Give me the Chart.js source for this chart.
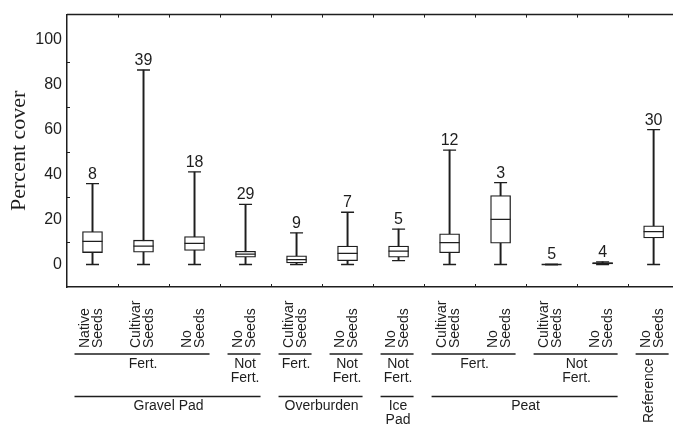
<!DOCTYPE html>
<html>
<head>
<meta charset="utf-8">
<title>Percent cover</title>
<script src="https://cdn.jsdelivr.net/npm/chart.js@4.4.0/dist/chart.umd.min.js"></script>
<style>
    html, body { margin: 0; padding: 0; background: #fff; }
    #wrap { width: 673px; height: 432px; }
</style>
</head>
<body>
<div id="wrap"><canvas id="coverChart"></canvas></div>
<script>
// box plot values (percent cover)
var positions = [1, 2, 3, 4, 5, 6, 7, 8, 9, 10, 11, 12];
var seedLabels = [
    ['Native', 'Seeds'], ['Cultivar', 'Seeds'], ['No', 'Seeds'], ['No', 'Seeds'],
    ['Cultivar', 'Seeds'], ['No', 'Seeds'], ['No', 'Seeds'], ['Cultivar', 'Seeds'],
    ['No', 'Seeds'], ['Cultivar', 'Seeds'], ['No', 'Seeds'], ['No', 'Seeds']
];
var minValues    = [0,    0,    0,    0,   0,   0,    1.7,  0,    0,    0, 0,   0];
var q1Values     = [5.3,  5.5,  6.2,  3.2, 0.7, 1.7,  3.2,  5.2,  9.5,  0, 0.2, 11.8];
var medianValues = [10.3, 8.2,  9.4,  4.6, 2.2, 4.9,  5.9,  9.7,  20,   0, 0.5, 14.6];
var q3Values     = [14.6, 10.8, 12.4, 5.9, 3.9, 8.2,  8.2,  13.6, 30.6, 0, 0.9, 17.2];
var maxValues    = [35.9, 86.4, 41.1, 26.7, 14, 23.2, 15.7, 50.8, 36.4, 0, 1.2, 59.9];
var sampleSizes  = [8, 39, 18, 29, 9, 7, 5, 12, 3, 5, 4, 30];
var yTickValues = [0, 20, 40, 60, 80, 100];
var yMinorTicks = [10, 30, 50, 70, 90];

// grouping rows under the axis: [first position, last position, text lines]
var fertGroups = [
    [1, 3, ['Fert.']], [4, 4, ['Not', 'Fert.']], [5, 5, ['Fert.']], [6, 6, ['Not', 'Fert.']],
    [7, 7, ['Not', 'Fert.']], [8, 9, ['Fert.']], [10, 11, ['Not', 'Fert.']], [12, 12, []]
];
var siteGroups = [
    [1, 4, ['Gravel Pad']], [5, 6, ['Overburden']], [7, 7, ['Ice', 'Pad']], [8, 11, ['Peat']]
];
var referenceLabel = 'Reference';

var ink = '#1e1e1e';
var sansFont = '"Liberation Sans", Arial, sans-serif';

function pointsOf(values){
    return positions.map(function(p, i){ return {x: p, y: values[i]}; });
}
function rangesOf(lo, hi){
    return positions.map(function(p, i){ return {x: p, y: [lo[i], hi[i]]}; });
}

// frame, inward ticks, n labels and the grouped category labels
var boxExtras = {
    id: 'boxExtras',
    afterDraw: function(chart){
        var ctx = chart.ctx;
        var xs = chart.scales.x, ys = chart.scales.y;
        var area = chart.chartArea;
        ctx.save();
        ctx.strokeStyle = ink;
        ctx.fillStyle = ink;

        // top frame line
        ctx.lineWidth = 1.5;
        ctx.beginPath();
        ctx.moveTo(area.left, area.top);
        ctx.lineTo(area.right, area.top);
        ctx.stroke();

        // small inward tick marks
        ctx.lineWidth = 1;
        ctx.beginPath();
        for (var b = 1; b < positions.length; b++) {
            var bx = Math.round(xs.getPixelForValue(b + 0.5)) + 0.5;
            ctx.moveTo(bx, area.top); ctx.lineTo(bx, area.top + 3);
            ctx.moveTo(bx, area.bottom); ctx.lineTo(bx, area.bottom - 3);
        }
        yMinorTicks.forEach(function(v){
            var ty = Math.round(ys.getPixelForValue(v)) + 0.5;
            ctx.moveTo(area.left, ty); ctx.lineTo(area.left + 3, ty);
        });
        ctx.stroke();

        // sample sizes above the whiskers
        ctx.font = '16px ' + sansFont;
        ctx.textAlign = 'center';
        ctx.textBaseline = 'alphabetic';
        positions.forEach(function(p, i){
            ctx.fillText(String(sampleSizes[i]), xs.getPixelForValue(p), ys.getPixelForValue(maxValues[i]) - 5);
        });

        // rotated seed labels
        ctx.font = '14px ' + sansFont;
        ctx.textBaseline = 'middle';
        ctx.textAlign = 'left';
        var labelBase = area.bottom + 61;
        positions.forEach(function(p, i){
            var cx = xs.getPixelForValue(p) - 1;
            seedLabels[i].forEach(function(line, k){
                ctx.save();
                ctx.translate(cx + (k - 0.5) * 12.8, labelBase);
                ctx.rotate(-Math.PI / 2);
                ctx.fillText(line, 0, 0);
                ctx.restore();
            });
        });

        function drawRow(groups, lineY){
            ctx.lineWidth = 1.3;
            ctx.textAlign = 'center';
            groups.forEach(function(g){
                var x0 = xs.getPixelForValue(g[0]) - 18;
                var x1 = xs.getPixelForValue(g[1]) + 15;
                ctx.beginPath();
                ctx.moveTo(x0, lineY);
                ctx.lineTo(x1, lineY);
                ctx.stroke();
                g[2].forEach(function(line, k){
                    ctx.fillText(line, (x0 + x1) / 2 + 1, lineY + 10 + k * 14);
                });
            });
        }
        drawRow(fertGroups, area.bottom + 67);
        drawRow(siteGroups, area.bottom + 109.5);

        // reference label runs upward below its line
        ctx.textAlign = 'left';
        ctx.save();
        ctx.translate(xs.getPixelForValue(12) - 4, area.bottom + 136);
        ctx.rotate(-Math.PI / 2);
        ctx.fillText(referenceLabel, 0, 0);
        ctx.restore();

        ctx.restore();
    }
};

var ctx = document.getElementById('coverChart').getContext('2d');

var config = {
    type: 'bar',
    data: {
        datasets: [{
            // whisker line from min to max, sits behind the box
            data: rangesOf(minValues, maxValues),
            backgroundColor: ink,
            borderWidth: 0,
            barThickness: 1.3,
            grouped: false,
            order: 3
        }, {
            data: rangesOf(q1Values, q3Values),
            backgroundColor: '#ffffff',
            borderColor: ink,
            borderWidth: 1.3,
            borderSkipped: false,
            barThickness: 20,
            grouped: false,
            order: 2
        }, {
            type: 'scatter',
            data: pointsOf(medianValues),
            pointStyle: 'line',
            radius: 10,
            borderColor: ink,
            borderWidth: 1.3,
            order: 1
        }, {
            type: 'scatter',
            data: pointsOf(minValues).concat(pointsOf(maxValues)),
            pointStyle: 'line',
            radius: 6.5,
            borderColor: ink,
            borderWidth: 1.3,
            order: 1
        }]
    },
    options: {
        responsive: true,
        maintainAspectRatio: false,
        animation: false,
        events: [],
        layout: { autoPadding: false, padding: { top: 7, right: 0, bottom: 145, left: 0 } },
        plugins: {
            legend: { display: false },
            tooltip: { enabled: false }
        },
        scales: {
            x: {
                type: 'linear',
                offset: false,
                min: 0.5,
                max: 12.38,
                ticks: { display: false },
                grid: { display: false, drawTicks: false },
                border: { display: true, color: ink, width: 1.5 },
                afterFit: function(axis){ axis.height = 0; }
            },
            y: {
                type: 'linear',
                min: -10,
                max: 111,
                afterBuildTicks: function(axis){
                    axis.ticks = yTickValues.map(function(v){ return {value: v}; });
                },
                ticks: {
                    padding: 5,
                    color: ink,
                    font: { family: sansFont, size: 16 }
                },
                grid: { display: false, drawTicks: false },
                border: { display: true, color: ink, width: 1.5 },
                title: {
                    display: true,
                    text: 'Percent cover',
                    color: ink,
                    font: { family: '"Liberation Serif", "Times New Roman", serif', size: 22 },
                    padding: { top: 6, bottom: 0 }
                },
                afterFit: function(axis){ axis.width = 67; }
            }
        }
    },
    plugins: [boxExtras]
};

var coverChart = new Chart(ctx, config);
</script>
</body>
</html>
